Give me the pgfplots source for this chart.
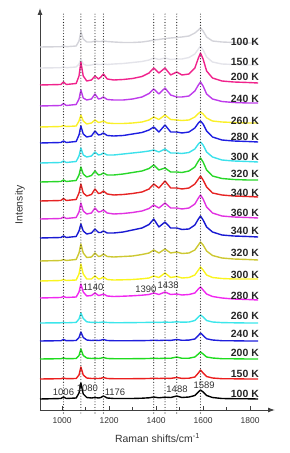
\documentclass[border=0pt]{standalone}
\usepackage{pgfplots}
\pgfplotsset{compat=1.18}
\usepackage{fontspec}
\setmainfont{Liberation Sans}
\usetikzlibrary{arrows.meta}
\definecolor{cA}{RGB}{0,0,0}
\definecolor{cB}{RGB}{235,30,30}
\definecolor{cC}{RGB}{30,220,30}
\definecolor{cD}{RGB}{30,30,220}
\definecolor{cE}{RGB}{60,230,235}
\definecolor{cF}{RGB}{240,40,240}
\definecolor{cG}{RGB}{250,245,30}
\definecolor{cH}{RGB}{205,200,50}
\definecolor{cI}{RGB}{25,25,210}
\definecolor{cJ}{RGB}{225,50,225}
\definecolor{cK}{RGB}{230,35,35}
\definecolor{cL}{RGB}{40,215,40}
\definecolor{cM}{RGB}{60,225,235}
\definecolor{cN}{RGB}{30,30,225}
\definecolor{cO}{RGB}{250,240,40}
\definecolor{cP}{RGB}{190,60,235}
\definecolor{cQ}{RGB}{240,35,140}
\definecolor{cR}{RGB}{228,228,234}
\definecolor{cS}{RGB}{212,212,218}
\begin{document}
\begin{tikzpicture}
\begin{axis}[
 at={(0,0)}, anchor=south west,
 scale only axis, width=235bp, height=402bp,
 xmin=906, xmax=1906, ymin=0, ymax=402,
 axis lines=left,
 axis line style={black!75, line width=1pt, -{Latex[length=7bp,width=5bp]}},
 xtick={1000,1200,1400,1600,1800},
 minor xtick={1100,1300,1500,1700},
 ytick=\empty,
 tick style={black!75, line width=0.8pt},
 major tick length=4bp, minor tick length=3bp,
 tick align=inside,
 /pgf/number format/assume math mode=true,
 /pgf/number format/1000 sep={},
 xticklabel style={font=\fontsize{8.5}{10}\selectfont, text=black!80, anchor=center, yshift=-11bp, inner sep=0pt},
 xlabel={Raman shifts/cm\textsuperscript{-1}},
 ylabel={Intensity},
 x label style={at={(axis description cs:0.5,0)}, anchor=center, yshift=-28bp, font=\fontsize{10.5}{12}\selectfont, text=black!80},
 y label style={at={(axis description cs:-0.085,0.51)}, anchor=center, font=\fontsize{10.5}{12}\selectfont, text=black!80},
 clip=false,
 every axis plot/.append style={line width=1.4pt, line join=round},
]
% 100 K (bottom)
\addplot[cA] table[row sep=\\, y expr=\thisrowno{1}+11] {906 0\\995 0.5\\1006 2\\1018 0.5\\1060 1\\1072 6\\1080 16\\1090 5\\1105 1.5\\1125 1\\1140 1.5\\1155 1\\1165 1.5\\1176 3\\1192 1\\1220 0.5\\1260 0.5\\1300 0.5\\1340 0.8\\1370 1.2\\1390 2\\1412 1.2\\1438 1.8\\1462 1.5\\1488 3\\1510 1.5\\1540 2\\1565 3.5\\1580 7\\1589 9\\1600 7\\1615 3.5\\1640 1.5\\1680 0.5\\1730 0.3\\1790 0.2\\1834 0\\};
% 150 K
\addplot[cB] table[row sep=\\, y expr=\thisrowno{1}+31] {906 0\\995 0.3\\1006 1\\1018 0.3\\1060 0.5\\1072 4\\1080 12\\1090 4\\1105 1\\1125 0.5\\1140 0.6\\1155 0.5\\1165 0.7\\1176 1.5\\1192 0.5\\1220 0.3\\1260 0.3\\1300 0.3\\1340 0.4\\1370 0.5\\1390 0.8\\1412 0.5\\1438 0.8\\1462 0.6\\1488 1.5\\1510 0.6\\1540 0.8\\1565 2\\1580 6\\1589 9\\1600 6\\1615 2.5\\1640 1\\1680 0.3\\1730 0.2\\1790 0\\1834 0\\};
% 200 K
\addplot[cC] table[row sep=\\, y expr=\thisrowno{1}+51] {906 0\\995 0.3\\1006 1\\1018 0.3\\1060 0.5\\1072 3.5\\1080 10\\1090 3.5\\1105 1\\1125 0.5\\1140 0.7\\1155 0.5\\1165 0.8\\1176 1.5\\1192 0.5\\1220 0.3\\1260 0.3\\1300 0.3\\1340 0.4\\1370 0.5\\1390 0.8\\1412 0.5\\1438 0.8\\1462 0.7\\1488 2\\1510 0.7\\1540 0.8\\1565 2\\1580 5\\1589 7\\1600 5\\1615 2\\1640 1\\1680 0.3\\1730 0.2\\1790 0\\1834 0\\};
% 240 K
\addplot[cD] table[row sep=\\, y expr=\thisrowno{1}+69] {906 0\\995 0.3\\1006 1.5\\1018 0.3\\1060 0.5\\1072 3.5\\1080 9\\1090 3.5\\1105 1\\1125 0.5\\1140 0.8\\1155 0.5\\1165 0.8\\1176 1.5\\1192 0.5\\1220 0.3\\1260 0.3\\1300 0.3\\1340 0.4\\1370 0.5\\1390 0.8\\1412 0.5\\1438 0.8\\1462 0.6\\1488 1.5\\1510 0.7\\1540 0.9\\1565 2\\1580 5.5\\1589 8\\1600 5.5\\1615 2.2\\1640 1\\1680 0.3\\1730 0.2\\1790 0\\1834 0\\};
% 260 K
\addplot[cE] table[row sep=\\, y expr=\thisrowno{1}+87] {906 0\\995 0.2\\1006 0.6\\1018 0.2\\1060 0.6\\1072 4\\1080 10\\1090 4.5\\1105 1.2\\1125 0.6\\1140 0.7\\1155 0.5\\1165 0.7\\1176 1\\1192 0.5\\1220 0.3\\1260 0.3\\1300 0.4\\1340 0.5\\1370 0.6\\1390 0.8\\1412 0.6\\1438 0.9\\1462 0.7\\1488 1.2\\1510 0.8\\1540 1\\1565 2.5\\1580 6\\1589 8\\1600 6\\1615 2.5\\1640 1\\1680 0.4\\1730 0.2\\1790 0\\1834 0\\};
% 280 K
\addplot[cF] table[row sep=\\, y expr=\thisrowno{1}+112] {906 0\\995 0.5\\1006 1.5\\1018 0.5\\1060 1\\1072 6\\1080 14\\1090 6\\1105 2\\1125 2.5\\1140 5\\1155 2.5\\1165 3\\1176 4\\1192 2\\1220 1.5\\1260 1.8\\1300 2.2\\1340 2.8\\1370 3.5\\1390 5\\1412 3.5\\1438 6\\1462 3.5\\1488 4\\1510 3\\1540 3.5\\1565 5\\1580 9\\1589 11\\1600 8\\1615 4\\1640 1.5\\1680 0\\1730 -1\\1790 -1.5\\1834 -2\\};
% 300 K
\addplot[cG] table[row sep=\\, y expr=\thisrowno{1}+129] {906 0\\995 0.5\\1006 1.5\\1018 0.5\\1060 1\\1072 7\\1080 17\\1090 7\\1105 2\\1125 2\\1140 5\\1155 2\\1165 2.5\\1176 4\\1192 1.5\\1220 1\\1260 1.2\\1300 1.5\\1340 2.2\\1370 3\\1390 5\\1412 3.5\\1438 8\\1462 3.5\\1488 4.5\\1510 3\\1540 3.5\\1565 6\\1580 11\\1589 14\\1600 11\\1615 6\\1640 3.5\\1680 2.5\\1730 2\\1790 2\\1834 2\\};
% 320 K
\addplot[cH] table[row sep=\\, y expr=\thisrowno{1}+149] {906 0\\995 0.5\\1006 1.5\\1018 0.5\\1060 1.5\\1072 8\\1080 17\\1090 8\\1105 3.5\\1125 4\\1140 8\\1155 4.5\\1165 5\\1176 7\\1192 4.5\\1220 4\\1260 4.5\\1300 5\\1340 6.5\\1370 8\\1390 11\\1412 8\\1438 12\\1462 8\\1488 9\\1510 7.5\\1540 8\\1565 11\\1580 16\\1589 19\\1600 16\\1615 10\\1640 5.5\\1680 3\\1730 2\\1790 1.5\\1834 1\\};
% 340 K
\addplot[cI] table[row sep=\\, y expr=\thisrowno{1}+172] {906 0\\995 0.5\\1006 2\\1018 0.5\\1060 1.5\\1072 7\\1080 14\\1090 7\\1105 4\\1125 5\\1140 9\\1155 5.5\\1165 5.5\\1176 7\\1192 5\\1220 5\\1260 6\\1300 8\\1340 10\\1370 13.5\\1390 19\\1412 11\\1438 16\\1462 10\\1488 10\\1510 8.5\\1540 9\\1565 13\\1580 19\\1589 22\\1600 18\\1615 11\\1640 6\\1680 3\\1730 2\\1790 1.5\\1834 1\\};
% 360 K
\addplot[cJ] table[row sep=\\, y expr=\thisrowno{1}+191] {906 0\\995 0.5\\1006 2\\1018 0.5\\1060 1.5\\1072 7\\1080 16\\1090 8\\1105 5\\1125 6\\1140 11\\1155 7\\1165 7.5\\1176 9\\1192 6\\1220 5\\1260 5.5\\1300 6.5\\1340 8\\1370 10.5\\1390 14\\1412 11\\1438 16\\1462 11\\1488 11\\1510 10\\1540 11\\1565 15\\1580 21\\1589 24\\1600 20\\1615 12\\1640 6\\1680 3\\1730 2\\1790 1.5\\1834 1\\};
% 340 K
\addplot[cK] table[row sep=\\, y expr=\thisrowno{1}+209] {906 0\\995 0.5\\1006 2.5\\1018 0.5\\1060 1.5\\1072 8\\1080 17\\1090 8\\1105 5\\1125 6.5\\1140 12\\1155 7.5\\1165 8\\1176 10\\1192 7\\1220 6\\1260 6.5\\1300 7.5\\1340 9\\1370 12\\1390 17\\1412 13\\1438 20\\1462 13\\1488 13\\1510 12\\1540 13\\1565 17\\1580 22\\1589 25\\1600 21\\1615 14\\1640 8\\1680 6\\1730 5\\1790 4.5\\1834 4\\};
% 320 K
\addplot[cL] table[row sep=\\, y expr=\thisrowno{1}+228] {906 0\\995 0.5\\1006 2\\1018 0.5\\1060 1.5\\1072 7\\1080 15\\1090 8\\1105 5\\1125 6.5\\1140 11\\1155 7\\1165 7.5\\1176 9\\1192 7\\1220 7\\1260 8\\1300 9.5\\1340 11\\1370 13.5\\1390 17\\1412 12\\1438 14\\1462 10\\1488 10\\1510 9.5\\1540 11\\1565 15\\1580 21\\1589 24\\1600 20\\1615 12\\1640 6\\1680 3.5\\1730 2.5\\1790 2\\1834 2\\};
% 300 K
\addplot[cM] table[row sep=\\, y expr=\thisrowno{1}+247] {906 0\\995 0.5\\1006 2\\1018 0.5\\1060 1.5\\1072 7\\1080 15\\1090 8\\1105 6\\1125 7\\1140 11\\1155 8\\1165 8.5\\1176 10\\1192 8\\1220 8\\1260 9\\1300 10\\1340 11\\1370 12\\1390 13\\1412 11\\1438 14\\1462 10\\1488 10\\1510 9.5\\1540 10.5\\1565 14\\1580 19\\1589 21\\1600 18\\1615 11\\1640 6\\1680 3\\1730 2\\1790 1.5\\1834 1\\};
% 280 K
\addplot[cN] table[row sep=\\, y expr=\thisrowno{1}+267] {906 0\\995 0.5\\1006 2\\1018 0.5\\1060 1.5\\1072 8\\1080 17\\1090 9\\1105 6\\1125 7\\1140 12\\1155 8\\1165 8.5\\1176 10\\1192 7.5\\1220 7\\1260 7.5\\1300 9\\1340 10.5\\1370 13\\1390 16\\1412 11\\1438 18\\1462 11\\1488 11\\1510 10\\1540 11\\1565 15\\1580 20\\1589 22\\1600 19\\1615 12\\1640 6\\1680 3\\1730 2\\1790 1.5\\1834 1\\};
% 260 K
\addplot[cO] table[row sep=\\, y expr=\thisrowno{1}+283] {906 0\\995 0.5\\1006 1.5\\1018 0.5\\1060 1\\1072 6\\1080 12\\1090 6\\1105 3\\1125 4\\1140 7\\1155 4.5\\1165 5\\1176 6\\1192 4\\1220 3.5\\1260 3.5\\1300 4\\1340 5\\1370 7\\1390 10\\1412 7.5\\1438 12\\1462 7.5\\1488 7\\1510 6.5\\1540 7\\1565 10\\1580 13.5\\1589 15\\1600 13\\1615 9\\1640 6\\1680 5\\1730 4.5\\1790 4\\1834 4\\};
% 240 K
\addplot[cP] table[row sep=\\, y expr=\thisrowno{1}+304] {906 0\\995 0.5\\1006 2.5\\1018 0.5\\1060 1.5\\1072 7\\1080 16\\1090 8\\1105 6\\1125 7\\1140 12\\1155 7\\1165 7.5\\1176 9\\1192 6.5\\1220 6\\1260 6\\1300 7\\1340 9\\1370 12.5\\1390 17\\1412 12\\1438 18\\1462 11\\1488 9\\1510 9\\1540 10\\1565 15\\1580 21\\1589 24\\1600 20\\1615 12\\1640 7\\1680 4.5\\1730 3.5\\1790 3\\1834 3\\};
% 100 K (top, faint)
\addplot[cS] table[row sep=\\, y expr=\thisrowno{1}+363] {906 0\\995 0.3\\1006 1\\1018 0.3\\1060 1\\1072 6\\1080 15\\1090 8\\1105 5\\1125 5\\1140 6\\1155 5.5\\1165 5.5\\1176 6\\1192 5.5\\1220 5\\1260 4.5\\1300 4.5\\1340 5\\1370 6\\1390 7\\1412 7.5\\1438 8.5\\1462 9\\1488 9.5\\1510 10\\1540 11\\1565 14\\1580 17\\1589 19\\1600 16\\1615 10\\1640 6\\1680 5\\1730 4.5\\1790 4\\1834 4\\};
% 150 K (top, faint)
\addplot[cR] table[row sep=\\, y expr=\thisrowno{1}+342] {906 0\\995 0.3\\1006 1\\1018 0.3\\1060 1\\1072 4\\1080 9\\1090 4\\1105 2.5\\1125 3\\1140 4\\1155 3.5\\1165 3.5\\1176 4\\1192 3.5\\1220 4\\1260 4.5\\1300 5.5\\1340 6.5\\1370 8\\1390 10\\1412 8.5\\1438 10\\1462 8.5\\1488 9\\1510 9\\1540 10.5\\1565 14\\1580 19\\1589 22\\1600 18\\1615 11\\1640 6\\1680 4\\1730 3.5\\1790 3\\1834 3\\};
% 200 K (top)
\addplot[cQ] table[row sep=\\, y expr=\thisrowno{1}+325] {906 0\\995 0.5\\1006 3\\1018 0.5\\1060 1.5\\1072 9\\1080 23\\1090 9\\1105 4\\1125 5\\1140 9\\1155 6\\1165 8\\1176 11\\1192 6\\1220 5\\1260 5.5\\1300 6.5\\1340 8.5\\1370 12\\1390 17\\1412 12\\1438 17\\1462 10\\1488 13\\1510 10\\1540 11\\1565 17\\1580 27\\1589 32\\1600 26\\1615 14\\1640 7\\1680 4\\1730 3\\1790 2.5\\1834 2\\};
% dotted reference lines
\tikzset{dl/.style={black!88, line width=1.15pt, line cap=round, dash pattern=on 0pt off 2.8pt}}
\addplot[dl] coordinates {(1006,-3) (1006,397)};
\addplot[dl] coordinates {(1080,-3) (1080,397)};
\addplot[dl] coordinates {(1140,-3) (1140,397)};
\addplot[dl] coordinates {(1176,-3) (1176,397)};
\addplot[dl] coordinates {(1390,-3) (1390,397)};
\addplot[dl] coordinates {(1438,-3) (1438,397)};
\addplot[dl] coordinates {(1488,-3) (1488,397)};
\addplot[dl] coordinates {(1589,-3) (1589,397)};
% temperature labels
\tikzset{tl/.style={anchor=east, inner sep=0pt, font=\bfseries\fontsize{10.5}{12}\selectfont, text=black!85}}
\node[tl] at (axis cs:1838,368) {100 K};
\node[tl] at (axis cs:1838,348) {150 K};
\node[tl] at (axis cs:1838,333) {200 K};
\node[tl] at (axis cs:1838,311) {240 K};
\node[tl] at (axis cs:1838,289) {260 K};
\node[tl] at (axis cs:1838,273) {280 K};
\node[tl] at (axis cs:1838,253) {300 K};
\node[tl] at (axis cs:1838,236) {320 K};
\node[tl] at (axis cs:1838,217) {340 K};
\node[tl] at (axis cs:1838,197) {360 K};
\node[tl] at (axis cs:1838,179) {340 K};
\node[tl] at (axis cs:1838,157) {320 K};
\node[tl] at (axis cs:1838,135) {300 K};
\node[tl] at (axis cs:1838,114) {280 K};
\node[tl] at (axis cs:1838,94) {260 K};
\node[tl] at (axis cs:1838,76) {240 K};
\node[tl] at (axis cs:1838,57) {200 K};
\node[tl] at (axis cs:1838,36) {150 K};
\node[tl] at (axis cs:1838,16) {100 K};
% peak annotations
\tikzset{pk/.style={inner sep=0pt, font=\fontsize{9.5}{11}\selectfont, text=black!80}}
\node[pk] at (axis cs:1006,18) {1006};
\node[pk] at (axis cs:1108,22) {1080};
\node[pk] at (axis cs:1225,18) {1176};
\node[pk] at (axis cs:1489,21) {1488};
\node[pk] at (axis cs:1604,25) {1589};
\node[pk] at (axis cs:1132,123) {1140};
\node[pk] at (axis cs:1357,121) {1390};
\node[pk] at (axis cs:1451,125) {1438};
\end{axis}
\pgfresetboundingbox
\path[use as bounding box] (-40bp,-43bp) rectangle (250bp,410bp);
\end{tikzpicture}
\end{document}
